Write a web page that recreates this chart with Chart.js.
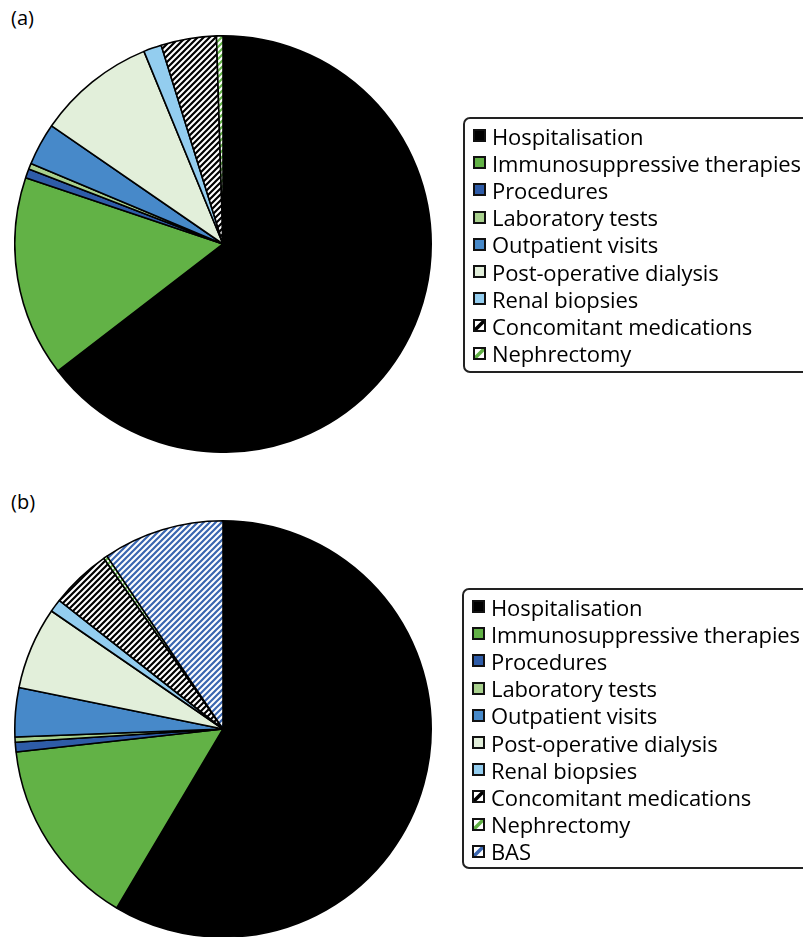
<!DOCTYPE html>
<html>
<head>
<meta charset="utf-8">
<script src="https://cdn.jsdelivr.net/npm/chart.js@4"></script>
<style>
  html, body { margin: 0; padding: 0; background: #fff; }
  body { width: 803px; height: 937px; position: relative; overflow: hidden; font-family: "Open Sans", sans-serif; color: #000; }
  .panel { position: absolute; font-size: 20px; }
  .pie { position: absolute; width: 418px; height: 418px; }
  .legend { position: absolute; border: 2px solid #222; border-radius: 7px; width: 380px; box-sizing: border-box; padding: 3px 0 0 8px; }
  .item { height: 27.2px; display: flex; align-items: center; font-size: 22px; font-weight: 500; white-space: nowrap; letter-spacing: -0.1px; }
  .item canvas { width: 13px; height: 13px; margin-right: 6px; flex: none; }
</style>
</head>
<body>
<div class="panel" style="left:11px; top:4px;">(a)</div>
<div class="pie" style="left:14px; top:35px;"><canvas id="chartA" width="418" height="418"></canvas></div>
<div class="legend" id="legendA" style="left:463px; top:117px; height:256px;"></div>

<div class="panel" style="left:11px; top:488px;">(b)</div>
<div class="pie" style="left:14px; top:520px;"><canvas id="chartB" width="418" height="418"></canvas></div>
<div class="legend" id="legendB" style="left:462px; top:588px; height:281px;"></div>

<script>
// ---- data ----
const categoriesA = ["Hospitalisation", "Immunosuppressive therapies", "Procedures", "Laboratory tests", "Outpatient visits", "Post-operative dialysis", "Renal biopsies", "Concomitant medications", "Nephrectomy"];
const valuesA = [64.6, 15.6, 0.7, 0.45, 3.3, 9.2, 1.4, 4.3, 0.5];

const categoriesB = ["Hospitalisation", "Immunosuppressive therapies", "Procedures", "Laboratory tests", "Outpatient visits", "Post-operative dialysis", "Renal biopsies", "Concomitant medications", "Nephrectomy", "BAS"];
const valuesB = [58.5, 14.7, 0.75, 0.4, 3.8, 6.4, 1.0, 4.7, 0.3, 9.4];

// ---- styles ----
function stripes(color) {
  const s = 6;
  const c = document.createElement('canvas');
  c.width = s; c.height = s;
  const x = c.getContext('2d');
  x.fillStyle = '#fff';
  x.fillRect(0, 0, s, s);
  x.strokeStyle = color;
  x.lineWidth = 2.2;
  x.lineCap = 'square';
  x.beginPath();
  x.moveTo(-1, s + 1); x.lineTo(s + 1, -1);
  x.moveTo(-1, 1); x.lineTo(1, -1);
  x.moveTo(s - 1, s + 1); x.lineTo(s + 1, s - 1);
  x.stroke();
  return x.createPattern(c, 'repeat');
}
function bigStripes(color) {
  const s = 13;
  const c = document.createElement('canvas');
  c.width = s; c.height = s;
  const x = c.getContext('2d');
  x.fillStyle = '#fff';
  x.fillRect(0, 0, s, s);
  x.strokeStyle = color;
  x.lineWidth = 3.5;
  x.beginPath();
  x.moveTo(0, s); x.lineTo(s, 0);
  x.stroke();
  return x.createPattern(c, 'no-repeat');
}
const solid = {
  "Hospitalisation": "#000000",
  "Immunosuppressive therapies": "#62b246",
  "Procedures": "#2e5ca8",
  "Laboratory tests": "#a9d18e",
  "Outpatient visits": "#4789c9",
  "Post-operative dialysis": "#e2efda",
  "Renal biopsies": "#93cdef"
};
const hatch = {
  "Concomitant medications": "#000000",
  "Nephrectomy": "#62b246",
  "BAS": "#3a66b0"
};
function fillFor(c) { return solid[c] || stripes(hatch[c]); }
function swatchFor(c) { return solid[c] || bigStripes(hatch[c]); }

function makePie(id, cats, vals) {
  return new Chart(document.getElementById(id), {
    type: 'pie',
    data: {
      labels: cats,
      datasets: [{
        data: vals,
        backgroundColor: cats.map(fillFor),
        borderColor: '#000',
        borderWidth: 1.6
      }]
    },
    options: {
      responsive: false,
      animation: false,
      layout: { padding: 0 },
      plugins: { legend: { display: false }, tooltip: { enabled: false } }
    }
  });
}

function makeLegend(id, cats) {
  const box = document.getElementById(id);
  cats.forEach(c => {
    const row = document.createElement('div');
    row.className = 'item';
    const sw = document.createElement('canvas');
    sw.width = 13; sw.height = 13;
    const g = sw.getContext('2d');
    g.fillStyle = swatchFor(c);
    g.fillRect(0, 0, 13, 13);
    g.strokeStyle = '#111';
    g.lineWidth = 2;
    g.strokeRect(1, 1, 11, 11);
    row.appendChild(sw);
    const t = document.createElement('span');
    t.textContent = c;
    row.appendChild(t);
    box.appendChild(row);
  });
}

makePie('chartA', categoriesA, valuesA);
makePie('chartB', categoriesB, valuesB);
makeLegend('legendA', categoriesA);
makeLegend('legendB', categoriesB);
</script>
</body>
</html>
